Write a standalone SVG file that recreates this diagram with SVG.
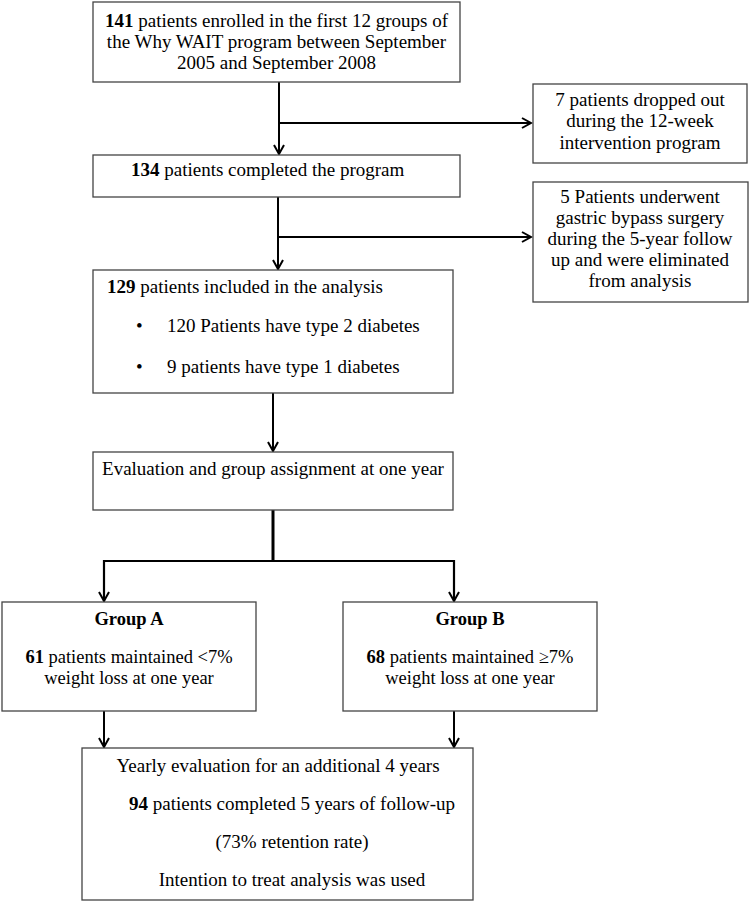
<svg xmlns="http://www.w3.org/2000/svg" width="750" height="902" viewBox="0 0 750 902">
<style>
  .box{fill:#fff;stroke:#444;stroke-width:1.3}
  text{font-family:"Liberation Serif","Times New Roman",serif;font-size:19px;fill:#000}
  .c{text-anchor:middle}
  .b{font-weight:bold}
  .g{font-size:18.5px}
  .ln{fill:none;stroke:#000;stroke-width:2}
</style>
<defs>
  <marker id="ar" viewBox="-11 -7 13 14" refX="0" refY="0" markerWidth="13" markerHeight="14" markerUnits="userSpaceOnUse" orient="auto">
    <path d="M-9,-5 L0,0 L-9,5" fill="none" stroke="#000" stroke-width="2"/>
  </marker>
</defs>
<rect width="750" height="902" fill="#fff"/>
<g id="connectors">
  <line class="ln" x1="279" y1="82" x2="279" y2="154" marker-end="url(#ar)"/>
  <line class="ln" x1="279" y1="123" x2="531" y2="123" marker-end="url(#ar)"/>
  <line class="ln" x1="278" y1="197" x2="278" y2="269" marker-end="url(#ar)"/>
  <line class="ln" x1="278" y1="237" x2="531" y2="237" marker-end="url(#ar)"/>
  <line class="ln" x1="273" y1="393" x2="273" y2="451" marker-end="url(#ar)"/>
  <line class="ln" x1="273" y1="510" x2="273" y2="561" style="stroke-width:3"/>
  <polyline class="ln" points="104,601 104,561 454,561 454,601" style="stroke-width:2.2"/>
  <line class="ln" x1="104" y1="580" x2="104" y2="601" marker-end="url(#ar)"/>
  <line class="ln" x1="454" y1="580" x2="454" y2="601" marker-end="url(#ar)"/>
  <line class="ln" x1="104" y1="711" x2="104" y2="747" marker-end="url(#ar)"/>
  <line class="ln" x1="454" y1="711" x2="454" y2="747" marker-end="url(#ar)"/>
</g>
<g id="enrolled">
  <rect class="box" x="93" y="2" width="367" height="80"/>
  <text class="c" x="276.5" y="27"><tspan class="b">141</tspan> patients enrolled in the first 12 groups of</text>
  <text class="c" x="276.5" y="48">the Why WAIT program between September</text>
  <text class="c" x="276.5" y="69">2005 and September 2008</text>
</g>
<g id="dropped">
  <rect class="box" x="533" y="84" width="214" height="79"/>
  <text class="c" x="640" y="106">7 patients dropped out</text>
  <text class="c" x="640" y="127">during the 12-week</text>
  <text class="c" x="640" y="149">intervention program</text>
</g>
<g id="completed">
  <rect class="box" x="93" y="155" width="367" height="42"/>
  <text x="131" y="176"><tspan class="b">134</tspan> patients completed the program</text>
</g>
<g id="bypass">
  <rect class="box" x="533" y="182" width="215" height="120"/>
  <text class="c" x="640" y="203">5 Patients underwent</text>
  <text class="c" x="640" y="224">gastric bypass surgery</text>
  <text class="c" x="640" y="245">during the 5-year follow</text>
  <text class="c" x="640" y="266">up and were eliminated</text>
  <text class="c" x="640" y="287">from analysis</text>
</g>
<g id="included">
  <rect class="box" x="93" y="270" width="360" height="123"/>
  <text x="107" y="293"><tspan class="b">129</tspan> patients included in the analysis</text>
  <text x="136" y="332">•</text>
  <text x="167" y="332">120 Patients have type 2 diabetes</text>
  <text x="136" y="373">•</text>
  <text x="167" y="373">9 patients have type 1 diabetes</text>
</g>
<g id="evaluation">
  <rect class="box" x="93" y="452" width="360" height="58"/>
  <text class="c" x="273" y="475">Evaluation and group assignment at one year</text>
</g>
<g id="groupA">
  <rect class="box" x="2" y="602" width="254" height="109"/>
  <text class="c b g" x="129" y="625">Group A</text>
  <text class="c g" x="129" y="663"><tspan class="b">61</tspan> patients maintained &lt;7%</text>
  <text class="c g" x="129" y="684">weight loss at one year</text>
</g>
<g id="groupB">
  <rect class="box" x="343" y="602" width="254" height="109"/>
  <text class="c b g" x="470" y="625">Group B</text>
  <text class="c g" x="470" y="663"><tspan class="b">68</tspan> patients maintained ≥7%</text>
  <text class="c g" x="470" y="684">weight loss at one year</text>
</g>
<g id="yearly">
  <rect class="box" x="82" y="748" width="391" height="152"/>
  <text class="c" x="278" y="772">Yearly evaluation for an additional 4 years</text>
  <text class="c" x="292" y="810"><tspan class="b">94</tspan> patients completed 5 years of follow-up</text>
  <text class="c" x="292" y="848">(73% retention rate)</text>
  <text class="c" x="292" y="886">Intention to treat analysis was used</text>
</g>
</svg>
